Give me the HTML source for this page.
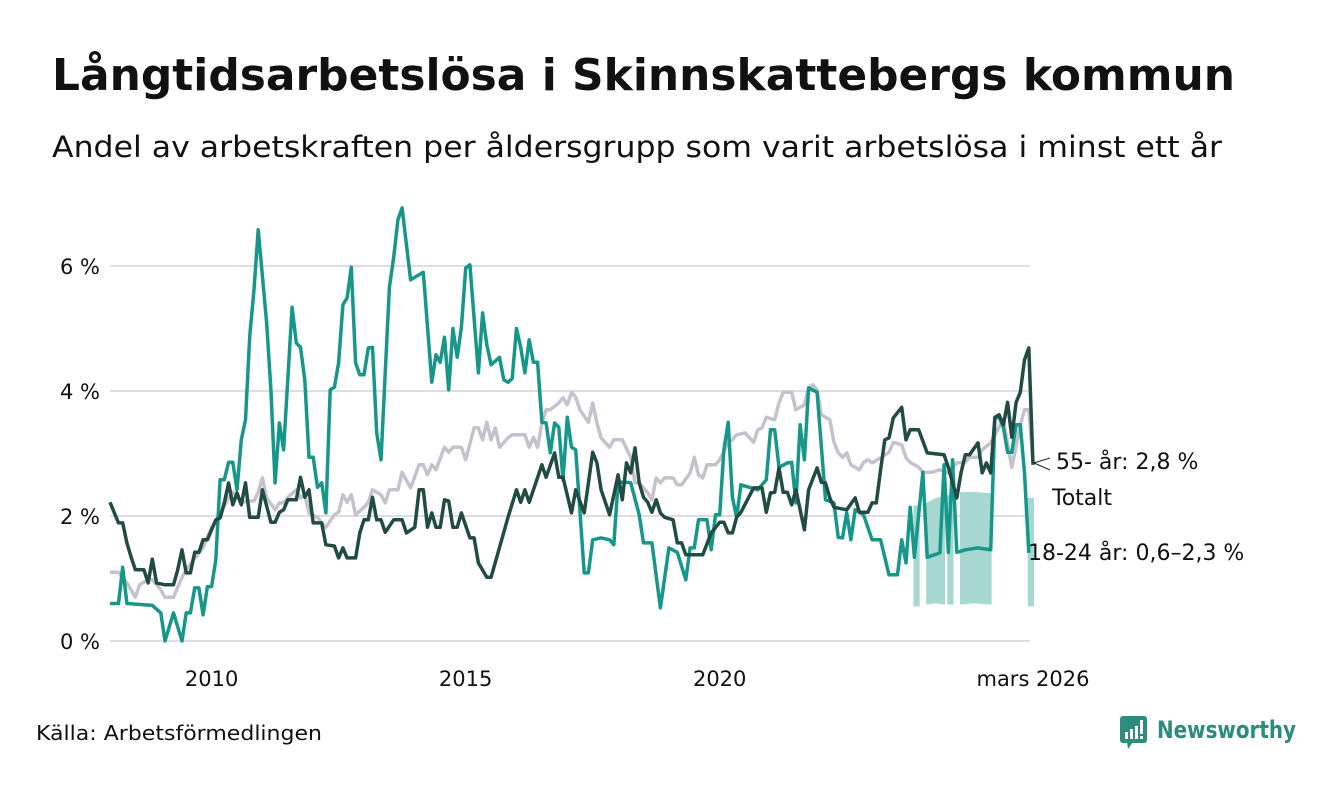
<!DOCTYPE html>
<html><head><meta charset="utf-8"><style>
body{margin:0;background:#fff;width:1340px;height:780px;overflow:hidden;}
svg text{font-family:"DejaVu Sans","Liberation Sans",sans-serif;}
</style></head><body>
<svg width="1340" height="780" xmlns="http://www.w3.org/2000/svg" id="svg">
<text x="52" y="90" font-size="44" font-weight="bold" fill="#111" textLength="1183" lengthAdjust="spacingAndGlyphs">Långtidsarbetslösa i Skinnskattebergs kommun</text>
<text x="52" y="157" font-size="29" fill="#111" textLength="1170" lengthAdjust="spacingAndGlyphs">Andel av arbetskraften per åldersgrupp som varit arbetslösa i minst ett år</text>
<g id="grid"></g>
<g id="band"></g>
<g id="lines"></g>
<g id="xticks"></g>
<line x1="1034" y1="463" x2="1050" y2="458" stroke="#222" stroke-width="1"/>
<line x1="1034" y1="463" x2="1050" y2="470" stroke="#222" stroke-width="1"/>
<text x="1056" y="469" font-size="22" fill="#111">55- år: 2,8 %</text>
<text x="1052" y="505" font-size="22" fill="#111">Totalt</text>
<text x="1028" y="560" font-size="22" fill="#111">18-24 år: 0,6–2,3 %</text>
<text x="36" y="740" font-size="20" fill="#111" textLength="286" lengthAdjust="spacingAndGlyphs">Källa: Arbetsförmedlingen</text>
<g>
<rect x="1120" y="716" width="27" height="27" rx="3" fill="#2e8b7f"/>
<polygon points="1127,742 1133,742 1128,749" fill="#2e8b7f"/>
<rect x="1125" y="732" width="3" height="7" fill="#fff"/><rect x="1130" y="729" width="3" height="10" fill="#fff"/><rect x="1135" y="726" width="3" height="13" fill="#fff"/><rect x="1140" y="720" width="3" height="14" fill="#fff"/><rect x="1140" y="736" width="3" height="3" fill="#fff"/>
<text x="1157" y="738" font-size="24" font-weight="bold" fill="#2e8b7f" textLength="139" lengthAdjust="spacingAndGlyphs">Newsworthy</text>
</g>
</svg>
<script>
const yTicks=[0,2,4,6];
const yTickLabels=["0 %","2 %","4 %","6 %"];
const xTickMonths=[24,84,144,218];
const xTickLabels=["2010","2015","2020","mars 2026"];
const youngM=[0,2,3,4,10,12,13,15,17,18,19,20,21,22,23,24,25,26,27,28,29,30,31,32,33,34,35,37,38,39,40,41,43,44,45,46,47,48,49,50,51,52,53,54,55,56,57,58,59,60,61,62,63,64,66,67,68,69,71,73,74,76,77,78,79,80,81,82,83,84,85,87,88,89,90,92,93,94,95,96,97,98,99,100,101,102,103,104,105,106,107,108,109,110,112,113,114,116,118,119,120,122,123,125,126,128,130,132,134,136,137,138,139,141,142,143,144,145,146,147,148,149,151,153,155,156,157,158,160,161,162,163,164,165,167,169,171,172,173,174,175,176,178,180,182,184,186,187,188,189,190,192,193,196,197,198,199,200,202,205,208,209,210,211,212,213,214,215,216,217];
const youngV=[0.6,0.6,1.18,0.6,0.57,0.45,0,0.45,0,0.45,0.45,0.85,0.85,0.42,0.87,0.87,1.3,2.58,2.58,2.86,2.86,2.42,3.22,3.54,4.87,5.62,6.58,5.08,4.02,2.53,3.49,3.06,5.34,4.77,4.7,4.18,2.94,2.94,2.46,2.53,2.05,4.02,4.06,4.45,5.38,5.49,5.98,4.45,4.26,4.26,4.69,4.7,3.33,2.9,5.66,6.14,6.74,6.93,5.78,5.86,5.9,4.14,4.58,4.46,4.86,4.02,5.0,4.54,5.02,5.97,6.02,4.29,5.25,4.74,4.42,4.54,4.18,4.14,4.2,5.0,4.7,4.29,4.82,4.46,4.46,3.5,3.49,3.01,3.49,3.42,2.58,3.58,3.1,3.06,1.09,1.09,1.62,1.65,1.62,1.54,2.54,2.54,2.53,2.02,1.57,1.57,0.53,1.49,1.42,0.98,1.49,1.49,1.94,1.94,1.46,2.02,2.02,3.06,3.5,2.3,1.98,2.5,2.46,2.42,2.58,3.38,3.38,2.78,2.85,2.86,2.21,3.46,2.9,4.05,3.98,2.26,2.21,1.66,1.65,2.05,1.62,2.1,2.02,1.62,1.62,1.06,1.06,1.62,1.25,2.14,1.34,2.7,1.34,1.41,2.82,1.42,2.9,1.42,1.46,1.49,1.46,3.57,3.58,3.42,3.02,3.02,3.46,3.46,2.69,1.41];
const totalM=[0,2,3,4,5,6,8,9,10,11,13,15,16,17,18,19,20,21,22,23,25,26,27,28,29,30,31,32,33,35,36,38,39,40,41,42,44,45,46,47,48,50,51,53,54,55,56,58,59,60,61,62,63,64,65,67,69,70,72,73,74,75,76,77,78,79,80,81,82,83,85,86,87,89,90,94,96,97,98,99,102,103,105,106,107,109,110,112,114,115,116,118,120,121,122,123,124,125,126,127,128,129,130,131,133,134,135,136,140,142,144,145,146,147,148,149,152,154,155,156,157,158,159,160,161,162,164,165,167,168,169,170,171,174,176,177,179,180,181,182,183,184,185,187,188,189,191,193,197,198,200,201,202,203,205,206,207,208,209,210,211,212,213,214,215,216,217,218];
const totalV=[2.22,1.89,1.89,1.57,1.34,1.14,1.14,0.93,1.31,0.93,0.9,0.9,1.14,1.46,1.09,1.09,1.42,1.42,1.62,1.62,1.94,1.97,2.21,2.53,2.18,2.37,2.18,2.53,1.98,1.98,2.42,1.9,1.9,2.06,2.1,2.26,2.26,2.62,2.3,2.42,1.89,1.89,1.54,1.52,1.33,1.49,1.33,1.33,1.73,1.94,1.94,2.3,1.94,1.94,1.74,1.94,1.94,1.73,1.82,2.42,2.42,1.82,2.05,1.82,1.82,2.26,2.24,1.82,1.82,2.05,1.65,1.65,1.25,1.02,1.02,1.98,2.42,2.22,2.42,2.22,2.82,2.62,3.01,2.62,2.62,2.05,2.42,2.05,3.02,2.85,2.42,2.02,2.66,2.26,2.85,2.69,3.09,2.53,2.3,2.22,2.06,2.26,2.05,1.98,1.94,1.57,1.57,1.38,1.38,1.73,1.9,1.9,1.73,1.73,1.98,2.06,2.45,2.45,2.06,2.37,2.38,2.77,2.38,2.38,2.18,2.42,1.78,2.42,2.77,2.54,2.53,2.29,2.14,2.1,2.29,2.06,2.06,2.21,2.21,2.74,3.22,3.25,3.57,3.74,3.22,3.38,3.38,3.01,2.98,2.78,2.29,2.69,2.98,2.98,3.17,2.69,2.85,2.69,3.58,3.62,3.46,3.82,3.26,3.82,3.98,4.5,4.69,2.82];
const oldM=[0,2,4,6,7,9,10,12,13,15,17,18,21,22,24,26,28,29,31,33,34,35,36,37,39,40,41,42,44,45,46,47,49,50,51,53,54,55,56,57,58,60,61,62,64,65,66,68,69,71,73,74,75,76,77,79,80,81,83,84,86,87,88,89,90,91,92,94,95,98,99,100,101,102,103,104,106,107,108,109,110,111,113,114,115,116,118,119,121,123,124,125,127,128,129,130,131,133,134,135,137,138,139,140,141,143,144,146,147,148,150,152,153,154,155,157,158,159,161,162,164,165,166,167,168,170,171,172,173,174,175,177,178,179,180,182,184,185,187,188,189,191,192,194,196,198,200,202,203,205,206,208,210,211,213,215,216,217,218];
const oldV=[1.1,1.1,0.93,0.7,0.9,0.98,0.98,0.82,0.7,0.7,1.02,1.14,1.41,1.5,1.82,2.02,2.3,2.38,2.22,2.24,2.24,2.38,2.61,2.29,2.1,2.21,2.21,2.3,2.42,2.29,2.34,2.05,1.98,1.89,1.82,2.02,2.06,2.34,2.22,2.34,2.02,2.14,2.22,2.42,2.34,2.21,2.42,2.42,2.7,2.45,2.82,2.82,2.66,2.82,2.74,3.1,3.02,3.1,3.1,2.9,3.41,3.41,3.22,3.5,3.22,3.41,3.1,3.25,3.3,3.3,3.1,3.26,3.1,3.49,3.7,3.7,3.81,3.89,3.78,3.98,3.9,3.7,3.5,3.81,3.49,3.25,3.1,3.22,3.22,2.94,2.53,2.53,2.37,2.26,2.61,2.53,2.61,2.61,2.5,2.5,2.69,2.94,2.66,2.61,2.82,2.82,2.9,3.17,3.22,3.3,3.33,3.18,3.38,3.41,3.58,3.54,3.81,3.98,3.98,3.7,3.78,4.05,4.1,4.02,3.62,3.54,3.18,3.01,2.94,3.01,2.82,2.74,2.86,2.9,2.85,2.93,3.02,3.18,3.14,2.93,2.86,2.78,2.7,2.7,2.74,2.69,2.85,2.86,2.94,2.94,3.06,3.17,3.42,3.54,2.78,3.46,3.7,3.7,2.85];
const bandM=[[190,191],[193,195,197],[198,199],[201,204,208],[217,218]];
const bandLo=[[0.57,0.57],[0.6,0.62,0.6],[0.6,0.6],[0.6,0.62,0.6],[0.57,0.57]];
const bandHi=[[2.15,2.16],[2.2,2.27,2.3],[2.32,2.33],[2.37,2.37,2.35],[2.27,2.27]];

const X=m=>110+m*(923/218);
const Y=v=>641-v*62.5;
const NS="http://www.w3.org/2000/svg";
function mk(tag,parent,attrs){const e=document.createElementNS(NS,tag);for(const k in attrs)e.setAttribute(k,attrs[k]);document.getElementById(parent).appendChild(e);return e;}
yTicks.forEach((t,i)=>{
  const l=mk('line','grid',{x1:110,x2:1030,y1:Y(t),y2:Y(t),stroke:'#dddde3','stroke-width':2});
  
  
  const tx=mk('text','grid',{x:100,y:Y(t)+8,'text-anchor':'end','font-size':21,fill:'#111'});
  tx.textContent=yTickLabels[i];
  
  
});
xTickMonths.forEach((m,i)=>{
  const tx=mk('text','xticks',{x:X(m),y:686,'text-anchor':'middle','font-size':21,fill:'#111'});
  tx.textContent=xTickLabels[i];
  
  
});
bandM.forEach((seg,s)=>{
  let d='';
  seg.forEach((m,j)=>{d+=(j?'L':'M')+X(m)+','+Y(bandHi[s][j]);});
  for(let j=seg.length-1;j>=0;j--)d+='L'+X(seg[j])+','+Y(bandLo[s][j]);
  const p=mk('path','band',{d:d+'Z',fill:'#a6d8d1',stroke:'#a6d8d1','stroke-width':2});
  
  
});
function line(ms,vs,color,name){
  const d=ms.map((m,i)=>(i?'L':'M')+X(m).toFixed(1)+','+Y(vs[i]).toFixed(1)).join('');
  const p=mk('path','lines',{d:d,fill:'none',stroke:color,'stroke-width':3.5,'stroke-linejoin':'round'});
  
  
}
line(oldM,oldV,'#c5c1cd','line-55-plus');
line(youngM,youngV,'#16978a','line-18-24');
line(totalM,totalV,'#214b43','line-total');
</script>
</body></html>
